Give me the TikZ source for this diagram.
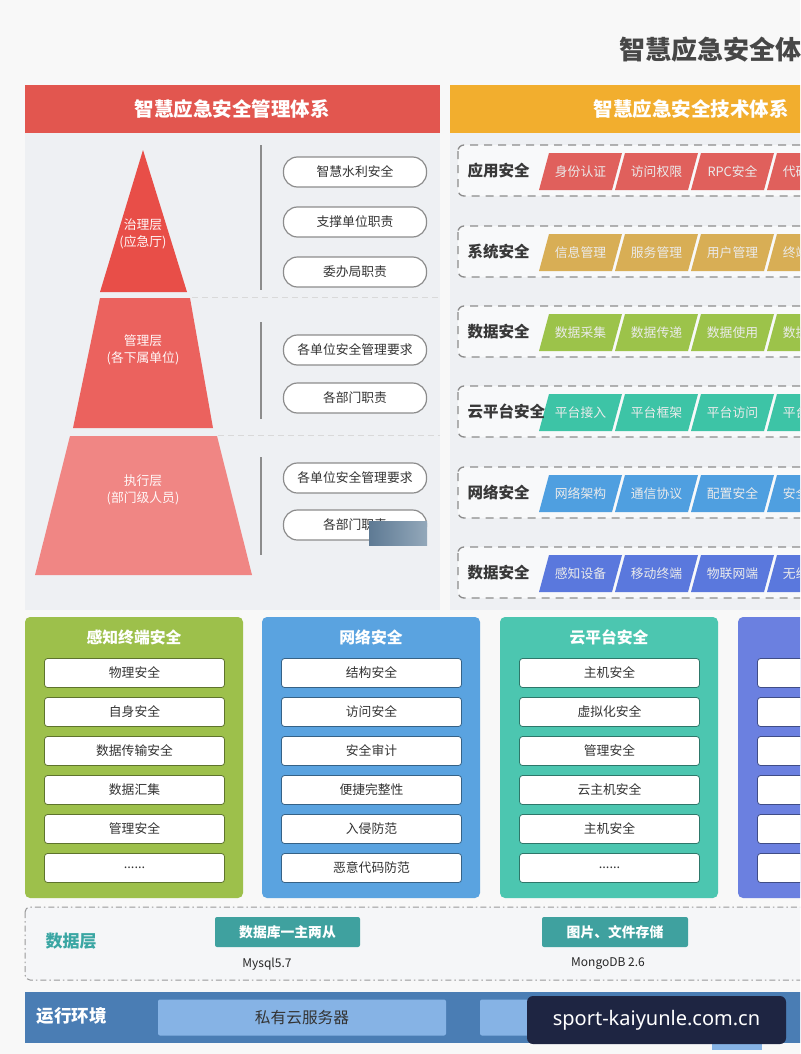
\documentclass[tikz,border=0pt]{standalone}
\usepackage{fontspec}
\setmainfont{Noto Sans CJK SC}
\newfontfamily\wmfont{Noto Sans}
\usetikzlibrary{shapes.geometric}
\definecolor{pagebg}{HTML}{F8F8F8}
\definecolor{panelbg}{HTML}{EEF0F3}
\definecolor{hdrred}{HTML}{E2564F}
\definecolor{hdrorange}{HTML}{F2AE2E}
\definecolor{pyrA}{HTML}{E84E48}
\definecolor{pyrB}{HTML}{EB625E}
\definecolor{pyrC}{HTML}{F08684}
\definecolor{tagA}{HTML}{E0605C}
\definecolor{tagB}{HTML}{D8AE55}
\definecolor{tagC}{HTML}{9CC34A}
\definecolor{tagD}{HTML}{3DC4A6}
\definecolor{tagE}{HTML}{4F9FE0}
\definecolor{tagF}{HTML}{5A78DD}
\definecolor{colA}{HTML}{9DC04B}
\definecolor{colB}{HTML}{5AA3E0}
\definecolor{colC}{HTML}{4CC6B0}
\definecolor{colD}{HTML}{6B80E0}
\definecolor{dbteal}{HTML}{3FA19F}
\definecolor{dblab}{HTML}{3AA6A3}
\definecolor{runbar}{HTML}{4A7DB4}
\definecolor{runbox}{HTML}{86B3E5}
\definecolor{wmbg}{HTML}{1E2542}
\definecolor{darktxt}{HTML}{333333}
\definecolor{blotA}{HTML}{5E7A94}
\definecolor{blotB}{HTML}{93A8BA}
\newcommand\fsz[2]{\fontsize{#1}{#2}\selectfont}
\newcommand\sixdots{......}
\tikzset{
  pill/.style={draw=black!45, line width=1.2pt, fill=white, rounded corners=14pt,
    minimum width=143pt, minimum height=30pt, text=darktxt, font=\fsz{12.8}{15}},
  pyrtext/.style={text=white!88!pink, font=\fsz{12.8}{17}, align=center},
  rowbox/.style={draw=black!45, line width=1.3pt, dash pattern=on 8pt off 6pt, fill=white!60!panelbg, rounded corners=6pt},
  rowlab/.style={anchor=west, text=black!78, font=\fsz{15.5}{18}\bfseries},
  tagtext/.style={text=white!92!black, font=\fsz{12.8}{15}},
  colhead/.style={text=white, font=\fsz{15.8}{18}\bfseries},
  itembox/.style={fill=white, rounded corners=3pt, line width=0.8pt,
    minimum width=180pt, minimum height=29pt, text=darktxt, font=\fsz{12.8}{15}},
  divider/.style={draw=black!45, line width=1.2pt},
  sepline/.style={draw=black!15, line width=1pt, dash pattern=on 6pt off 4pt},
}
\begin{document}
\begin{tikzpicture}[x=1pt,y=-1pt]
\useasboundingbox (0,0) rectangle (800,1054);
\clip (0,0) rectangle (800,1054);
\fill[pagebg] (0,0) rectangle (800,1054);
% title
\node[anchor=west, text=black!72, font=\fsz{26}{30}\bfseries, inner sep=0pt] (title) at (619,50) {智慧应急安全体系};
% ===== left panel =====
\fill[panelbg] (25,133) rectangle (440,610);
\fill[hdrred] (25,85) rectangle (440,133);
\node[text=white, font=\fsz{19.5}{22}\bfseries] (lhead) at (232,109) {智慧应急安全管理体系};
% pyramid
\fill[pyrA] (143,150) -- (187,292) -- (100,292) -- cycle;
\fill[pyrB] (100,298) -- (190,298) -- (213,428) -- (73,428) -- cycle;
\fill[pyrC] (70,436) -- (217,436) -- (252,575) -- (35,575) -- cycle;
\node[pyrtext] (lv1) at (143,234) {治理层\\(应急厅)};
\node[pyrtext] (lv2) at (143,350) {管理层\\(各下属单位)};
\node[pyrtext] (lv3) at (143,490) {执行层\\(部门级人员)};
% separators
\draw[sepline] (192,297) -- (440,297);
\draw[sepline] (218,435) -- (440,435);
\draw[divider] (261,145) -- (261,290);
\draw[divider] (261,322) -- (261,419);
\draw[divider] (261,457) -- (261,555);
% pills
\node[pill] (p1) at (355,172) {智慧水利安全};
\node[pill] (p2) at (355,222) {支撑单位职责};
\node[pill] (p3) at (355,272) {委办局职责};
\node[pill] (p4) at (355,350) {各单位安全管理要求};
\node[pill] (p5) at (355,398) {各部门职责};
\node[pill] (p6) at (355,478) {各单位安全管理要求};
\node[pill] (p7) at (355,525) {各部门职责};
\shade[left color=blotA, right color=blotB] (369,521) rectangle (427,545);
% ===== right panel =====
\fill[panelbg] (450,133) rectangle (800,610);
\fill[hdrorange] (450,85) rectangle (820,133);
\node[text=white, font=\fsz{19.5}{22}\bfseries] (rhead) at (691,109) {智慧应急安全技术体系};
\foreach \yy/\lab/\col/\ta/\tb/\tc/\td [count=\r] in {
  145/应用安全/tagA/身份认证/访问权限/RPC安全/代码安全,
  226/系统安全/tagB/信息管理/服务管理/用户管理/终端管理,
  306/数据安全/tagC/数据采集/数据传递/数据使用/数据存储,
  386/云平台安全/tagD/平台接入/平台框架/平台访问/平台管理,
  467/网络安全/tagE/网络架构/通信协议/配置安全/安全审计,
  547/数据安全/tagF/感知设备/移动终端/物联网端/无线网络}{
  \draw[rowbox] (458,\yy) rectangle (830,\yy+51);
  \foreach \t [count=\i from 0] in {\ta,\tb,\tc,\td}{
    \pgfmathsetmacro\xo{549+76*\i}
    \fill[\col] (\xo,\yy+8) -- (\xo+73,\yy+8) -- (\xo+63,\yy+45) -- (\xo-10,\yy+45) -- cycle;
    \node[tagtext] (tag-\r-\i) at (\xo+31.5,\yy+26.5) {\t};
  }
  \node[rowlab] (row\r) at (464,\yy+25.5) {\lab};
}
% ===== bottom columns =====
\foreach \cx/\col/\head/\qa/\qb/\qc/\qd/\qe/\qf [count=\c] in {
  25/colA/感知终端安全/物理安全/自身安全/数据传输安全/数据汇集/管理安全/\sixdots,
  262/colB/网络安全/结构安全/访问安全/安全审计/便捷完整性/入侵防范/恶意代码防范,
  500/colC/云平台安全/主机安全/虚拟化安全/管理安全/云主机安全/主机安全/\sixdots,
  738/colD/{}/{}/{}/{}/{}/{}/{}}{
  \fill[\col, rounded corners=5pt] (\cx,617) rectangle (\cx+218,898);
  \node[colhead] (ch\c) at (\cx+109,637) {\head};
  \foreach \t [count=\j from 0] in {\qa,\qb,\qc,\qd,\qe,\qf}{
    \node[itembox, draw=\col!60!black] (it-\c-\j) at (\cx+109.5,673+39*\j) {\t};
  }
}
% ===== data layer =====
\draw[fill=white!40!panelbg, draw=black!40, line width=1pt, rounded corners=5pt,
  dash pattern=on 6pt off 3pt on 1.5pt off 3pt] (25,907) rectangle (830,980);
\node[text=dblab, font=\fsz{17}{20}\bfseries, anchor=west] (dlab) at (42,941) {数据层};
\node[fill=dbteal, text=white, rounded corners=2pt, minimum width=145pt, minimum height=30pt,
  font=\fsz{13.8}{16}\bfseries] (db1) at (287.5,932) {数据库一主两从};
\node[fill=dbteal, text=white, rounded corners=2pt, minimum width=146pt, minimum height=30pt,
  font=\fsz{13.8}{16}\bfseries] (db2) at (615,932) {图片、文件存储};
\node[text=black!85, font=\fsz{12}{14}] (db1t) at (267,964) {Mysql5.7};
\node[text=black!85, font=\fsz{12}{14}] (db2t) at (608,964) {MongoDB 2.6};
% ===== run env =====
\fill[runbar] (25,992) rectangle (820,1043);
\node[text=white, font=\fsz{17.5}{20}\bfseries, anchor=west] (rlab) at (33,1016) {运行环境};
\node[fill=runbox, rounded corners=2pt, minimum width=288pt, minimum height=36pt,
  text=darktxt, font=\fsz{15.7}{18}] (rb1) at (302,1017.5) {私有云服务器};
\fill[runbox, rounded corners=2pt] (480,999.5) rectangle (770,1035.5);
\fill[runbox] (712,1035) rectangle (762,1050);
\node[fill=wmbg, rounded corners=6pt, minimum width=259pt, minimum height=48pt,
  text=white, font=\wmfont\fsz{20}{24}] (wm) at (656.5,1020) {sport-kaiyunle.com.cn};
\end{tikzpicture}
\end{document}
